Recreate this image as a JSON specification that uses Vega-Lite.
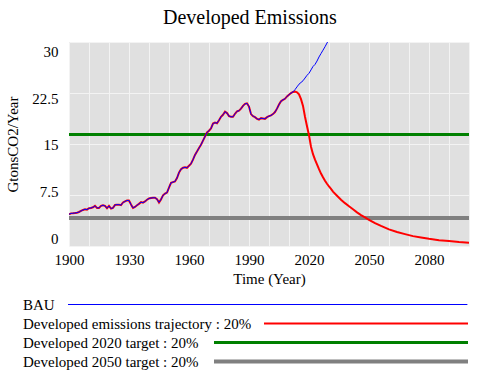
{
  "$schema": "https://vega.github.io/schema/vega-lite/v6.json",
  "padding": {"top": 8, "left": 5, "right": 5, "bottom": 5},
  "background": "white",
  "title": {"text": "Developed Emissions", "font": "Liberation Serif", "fontSize": 20, "fontWeight": "normal", "color": "black", "anchor": "middle", "offset": 14, "dx": 12},
  "config": {"font": "Liberation Serif", "view": {"stroke": null}},
  "spacing": 9,
  "datasets": {
    "emissions": [
      {"year": 1900, "bau": 4.66, "traj": 4.66, "t2020": 16.4, "t2050": 4.1},
      {"year": 1901, "bau": 4.8, "traj": 4.8},
      {"year": 1902, "bau": 4.82, "traj": 4.82},
      {"year": 1903, "bau": 4.85, "traj": 4.85},
      {"year": 1904, "bau": 4.9, "traj": 4.9},
      {"year": 1905, "bau": 5.0, "traj": 5.0},
      {"year": 1906, "bau": 5.15, "traj": 5.15},
      {"year": 1907, "bau": 5.3, "traj": 5.3},
      {"year": 1908, "bau": 5.4, "traj": 5.4},
      {"year": 1909, "bau": 5.35, "traj": 5.35},
      {"year": 1910, "bau": 5.55, "traj": 5.55},
      {"year": 1911, "bau": 5.6, "traj": 5.6},
      {"year": 1912, "bau": 5.7, "traj": 5.7},
      {"year": 1913, "bau": 5.9, "traj": 5.9},
      {"year": 1914, "bau": 5.6, "traj": 5.6},
      {"year": 1915, "bau": 5.6, "traj": 5.6},
      {"year": 1916, "bau": 5.9, "traj": 5.9},
      {"year": 1917, "bau": 6.0, "traj": 6.0},
      {"year": 1918, "bau": 5.9, "traj": 5.9},
      {"year": 1919, "bau": 5.55, "traj": 5.55},
      {"year": 1920, "bau": 5.9, "traj": 5.9},
      {"year": 1921, "bau": 5.5, "traj": 5.5},
      {"year": 1922, "bau": 5.6, "traj": 5.6},
      {"year": 1923, "bau": 6.05, "traj": 6.05},
      {"year": 1924, "bau": 6.08, "traj": 6.08},
      {"year": 1925, "bau": 6.08, "traj": 6.08},
      {"year": 1926, "bau": 6.0, "traj": 6.0},
      {"year": 1927, "bau": 6.4, "traj": 6.4},
      {"year": 1928, "bau": 6.55, "traj": 6.55},
      {"year": 1929, "bau": 6.7, "traj": 6.7},
      {"year": 1930, "bau": 6.7, "traj": 6.7},
      {"year": 1931, "bau": 6.1, "traj": 6.1},
      {"year": 1932, "bau": 5.6, "traj": 5.6},
      {"year": 1933, "bau": 5.75, "traj": 5.75},
      {"year": 1934, "bau": 6.0, "traj": 6.0},
      {"year": 1935, "bau": 6.2, "traj": 6.2},
      {"year": 1936, "bau": 6.45, "traj": 6.45},
      {"year": 1937, "bau": 6.37, "traj": 6.37},
      {"year": 1938, "bau": 6.55, "traj": 6.55},
      {"year": 1939, "bau": 6.8, "traj": 6.8},
      {"year": 1940, "bau": 7.0, "traj": 7.0},
      {"year": 1941, "bau": 7.05, "traj": 7.05},
      {"year": 1942, "bau": 7.1, "traj": 7.1},
      {"year": 1943, "bau": 7.1, "traj": 7.1},
      {"year": 1944, "bau": 6.9, "traj": 6.9},
      {"year": 1945, "bau": 6.4, "traj": 6.4},
      {"year": 1946, "bau": 6.85, "traj": 6.85},
      {"year": 1947, "bau": 7.45, "traj": 7.45},
      {"year": 1948, "bau": 7.7, "traj": 7.7},
      {"year": 1949, "bau": 7.85, "traj": 7.85},
      {"year": 1950, "bau": 8.6, "traj": 8.6},
      {"year": 1951, "bau": 9.3, "traj": 9.3},
      {"year": 1952, "bau": 9.4, "traj": 9.4},
      {"year": 1953, "bau": 9.5, "traj": 9.5},
      {"year": 1954, "bau": 10.0, "traj": 10.0},
      {"year": 1955, "bau": 10.8, "traj": 10.8},
      {"year": 1956, "bau": 11.3, "traj": 11.3},
      {"year": 1957, "bau": 11.5, "traj": 11.5},
      {"year": 1958, "bau": 11.57, "traj": 11.57},
      {"year": 1959, "bau": 11.5, "traj": 11.5},
      {"year": 1960, "bau": 11.8, "traj": 11.8},
      {"year": 1961, "bau": 12.1, "traj": 12.1},
      {"year": 1962, "bau": 12.7, "traj": 12.7},
      {"year": 1963, "bau": 13.4, "traj": 13.4},
      {"year": 1964, "bau": 13.9, "traj": 13.9},
      {"year": 1965, "bau": 14.4, "traj": 14.4},
      {"year": 1966, "bau": 14.9, "traj": 14.9},
      {"year": 1967, "bau": 15.5, "traj": 15.5},
      {"year": 1968, "bau": 16.1, "traj": 16.1},
      {"year": 1969, "bau": 16.7, "traj": 16.7},
      {"year": 1970, "bau": 16.95, "traj": 16.95},
      {"year": 1971, "bau": 17.3, "traj": 17.3},
      {"year": 1972, "bau": 18.0, "traj": 18.0},
      {"year": 1973, "bau": 18.14, "traj": 18.14},
      {"year": 1974, "bau": 18.05, "traj": 18.05},
      {"year": 1975, "bau": 18.5, "traj": 18.5},
      {"year": 1976, "bau": 19.0, "traj": 19.0},
      {"year": 1977, "bau": 19.3, "traj": 19.3},
      {"year": 1978, "bau": 19.75, "traj": 19.75},
      {"year": 1979, "bau": 19.55, "traj": 19.55},
      {"year": 1980, "bau": 19.1, "traj": 19.1},
      {"year": 1981, "bau": 19.0, "traj": 19.0},
      {"year": 1982, "bau": 19.0, "traj": 19.0},
      {"year": 1983, "bau": 19.45, "traj": 19.45},
      {"year": 1984, "bau": 19.8, "traj": 19.8},
      {"year": 1985, "bau": 19.9, "traj": 19.9},
      {"year": 1986, "bau": 20.2, "traj": 20.2},
      {"year": 1987, "bau": 20.6, "traj": 20.6},
      {"year": 1988, "bau": 20.9, "traj": 20.9},
      {"year": 1989, "bau": 20.98, "traj": 20.98},
      {"year": 1990, "bau": 20.5, "traj": 20.5},
      {"year": 1991, "bau": 19.4, "traj": 19.4},
      {"year": 1992, "bau": 19.1, "traj": 19.1},
      {"year": 1993, "bau": 18.95, "traj": 18.95},
      {"year": 1994, "bau": 18.7, "traj": 18.7},
      {"year": 1995, "bau": 18.6, "traj": 18.6},
      {"year": 1996, "bau": 18.8, "traj": 18.8},
      {"year": 1997, "bau": 18.75, "traj": 18.75},
      {"year": 1998, "bau": 18.7, "traj": 18.7},
      {"year": 1999, "bau": 18.95, "traj": 18.95},
      {"year": 2000, "bau": 19.1, "traj": 19.1},
      {"year": 2001, "bau": 19.2, "traj": 19.2},
      {"year": 2002, "bau": 19.4, "traj": 19.4},
      {"year": 2003, "bau": 19.7, "traj": 19.7},
      {"year": 2004, "bau": 20.2, "traj": 20.2},
      {"year": 2005, "bau": 20.8, "traj": 20.8},
      {"year": 2006, "bau": 21.3, "traj": 21.3},
      {"year": 2007, "bau": 21.5, "traj": 21.5},
      {"year": 2008, "bau": 21.65, "traj": 21.65},
      {"year": 2009, "bau": 22.0, "traj": 22.0},
      {"year": 2010, "bau": 22.25, "traj": 22.25},
      {"year": 2011, "bau": 22.5, "traj": 22.5},
      {"year": 2012, "bau": 22.65, "traj": 22.65},
      {"year": 2013, "bau": 23.0, "traj": 22.7},
      {"year": 2014, "bau": 23.4, "traj": 22.6},
      {"year": 2015, "bau": 23.8, "traj": 22.3},
      {"year": 2016, "bau": 24.05, "traj": 21.6},
      {"year": 2017, "bau": 24.3, "traj": 20.6},
      {"year": 2018, "bau": 24.7, "traj": 19.0},
      {"year": 2019, "bau": 25.1, "traj": 17.6},
      {"year": 2020, "bau": 25.4, "traj": 16.3},
      {"year": 2021, "bau": 25.9, "traj": 14.6},
      {"year": 2022, "bau": 26.4, "traj": 13.5},
      {"year": 2023, "bau": 26.7, "traj": 12.7},
      {"year": 2024, "bau": 27.2, "traj": 12.0},
      {"year": 2025, "bau": 27.8, "traj": 11.3},
      {"year": 2026, "bau": 28.3, "traj": 10.65},
      {"year": 2027, "bau": 28.8, "traj": 10.1},
      {"year": 2028, "bau": 29.3, "traj": 9.6},
      {"year": 2029, "bau": 29.85, "traj": 9.15},
      {"year": 2030, "bau": 30.4, "traj": 8.75},
      {"year": 2031, "bau": 31.0, "traj": 8.4},
      {"year": 2032, "traj": 8.0},
      {"year": 2034, "traj": 7.4},
      {"year": 2036, "traj": 6.8},
      {"year": 2038, "traj": 6.3},
      {"year": 2040, "traj": 5.85},
      {"year": 2042, "traj": 5.4},
      {"year": 2044, "traj": 4.95},
      {"year": 2046, "traj": 4.55},
      {"year": 2048, "traj": 4.2},
      {"year": 2050, "traj": 3.85},
      {"year": 2053, "traj": 3.35},
      {"year": 2056, "traj": 2.95},
      {"year": 2060, "traj": 2.45},
      {"year": 2064, "traj": 2.05},
      {"year": 2068, "traj": 1.75},
      {"year": 2072, "traj": 1.45},
      {"year": 2076, "traj": 1.25},
      {"year": 2080, "traj": 1.05},
      {"year": 2085, "traj": 0.85},
      {"year": 2090, "traj": 0.72},
      {"year": 2095, "traj": 0.58},
      {"year": 2100, "traj": 0.49, "t2020": 16.4, "t2050": 4.1}
    ],
    "legend": [
      {"series": "bau", "label": "BAU"},
      {"series": "traj", "label": "Developed emissions trajectory : 20%"},
      {"series": "t2020", "label": "Developed 2020 target : 20%"},
      {"series": "t2050", "label": "Developed 2050 target : 20%"}
    ]
  },
  "vconcat": [
    {
      "width": 400,
      "height": 204,
      "view": {"fill": "#e0e0e0", "stroke": null},
      "data": {"name": "emissions"},
      "transform": [
        {"fold": ["bau", "traj", "t2020", "t2050"], "as": ["series", "value"]},
        {"filter": "isValid(datum.value)"}
      ],
      "encoding": {
        "x": {
          "field": "year", "type": "quantitative",
          "scale": {"domain": [1900, 2100], "nice": false, "zero": false},
          "axis": {
            "title": "Time (Year)",
            "values": [1900, 1910, 1920, 1930, 1940, 1950, 1960, 1970, 1980, 1990, 2000, 2010, 2020, 2030, 2040, 2050, 2060, 2070, 2080, 2090, 2100],
            "format": "d",
            "labelExpr": "(datum.value - 1900) % 30 == 0 ? datum.label : ''",
            "labelOverlap": false, "labelFlush": false,
            "grid": true, "gridColor": "#f3f3f3", "gridWidth": 1,
            "domain": false, "ticks": false, "tickSize": 0,
            "labelPadding": 6, "titlePadding": 4,
            "labelFont": "Liberation Serif", "labelFontSize": 15, "labelColor": "black",
            "titleFont": "Liberation Serif", "titleFontSize": 15, "titleFontWeight": "normal", "titleColor": "black"
          }
        },
        "y": {
          "field": "value", "type": "quantitative",
          "scale": {"domain": [0, 30], "nice": false},
          "axis": {
            "title": "GtonsCO2/Year",
            "values": [0, 7.5, 15, 22.5, 30],
            "format": ".3~g",
            "labelOffset": {"condition": [
              {"test": "datum.value == 30", "value": 9.5},
              {"test": "datum.value == 22.5", "value": 5},
              {"test": "datum.value == 7.5", "value": -4},
              {"test": "datum.value == 0", "value": -7.7}
            ], "value": 0.5},
            "grid": true, "gridColor": "#f3f3f3", "gridWidth": 1,
            "domain": false, "ticks": false, "tickSize": 0,
            "labelPadding": 11, "titlePadding": 11,
            "labelFont": "Liberation Serif", "labelFontSize": 15, "labelColor": "black",
            "titleFont": "Liberation Serif", "titleFontSize": 15, "titleFontWeight": "normal", "titleColor": "black"
          }
        },
        "color": {
          "field": "series", "type": "nominal",
          "scale": {"domain": ["bau", "traj", "t2020", "t2050"], "range": ["#0000ff", "#ff0000", "#008000", "#808080"]},
          "legend": null
        }
      },
      "layer": [
        {"transform": [{"filter": "datum.series == 't2050'"}], "mark": {"type": "line", "strokeWidth": 4, "clip": true}},
        {"transform": [{"filter": "datum.series == 't2020'"}], "mark": {"type": "line", "strokeWidth": 3, "clip": true}},
        {"transform": [{"filter": "datum.series == 'traj'"}], "mark": {"type": "line", "strokeWidth": 2, "clip": true}},
        {"transform": [{"filter": "datum.series == 'bau'"}], "mark": {"type": "line", "strokeWidth": 1, "clip": true}}
      ]
    },
    {
      "width": 400,
      "height": 76,
      "data": {"name": "legend"},
      "encoding": {
        "y": {"field": "series", "type": "nominal", "scale": {"domain": ["bau", "traj", "t2020", "t2050"]}, "axis": null}
      },
      "layer": [
        {
          "mark": {"type": "text", "align": "left", "baseline": "middle", "font": "Liberation Serif", "fontSize": 15, "color": "black"},
          "encoding": {
            "x": {"datum": -11.5, "type": "quantitative", "scale": {"domain": [0, 100], "nice": false, "zero": false}, "axis": null},
            "text": {"field": "label"}
          }
        },
        {
          "transform": [{"filter": "datum.series == 'bau'"}],
          "mark": {"type": "rule", "strokeWidth": 1},
          "encoding": {
            "x": {"datum": -0.25, "type": "quantitative", "scale": {"domain": [0, 100], "nice": false, "zero": false}, "axis": null},
            "x2": {"datum": 99.6},
            "color": {"field": "series", "type": "nominal", "legend": null}
          }
        },
        {
          "transform": [{"filter": "datum.series == 'traj'"}],
          "mark": {"type": "rule", "strokeWidth": 2},
          "encoding": {
            "x": {"datum": 48.75, "type": "quantitative", "scale": {"domain": [0, 100], "nice": false, "zero": false}, "axis": null},
            "x2": {"datum": 99.75},
            "color": {"field": "series", "type": "nominal", "legend": null}
          }
        },
        {
          "transform": [{"filter": "datum.series == 't2020'"}],
          "mark": {"type": "rule", "strokeWidth": 3},
          "encoding": {
            "x": {"datum": 36.25, "type": "quantitative", "scale": {"domain": [0, 100], "nice": false, "zero": false}, "axis": null},
            "x2": {"datum": 99.75},
            "color": {"field": "series", "type": "nominal", "legend": null}
          }
        },
        {
          "transform": [{"filter": "datum.series == 't2050'"}],
          "mark": {"type": "rule", "strokeWidth": 4},
          "encoding": {
            "x": {"datum": 36.25, "type": "quantitative", "scale": {"domain": [0, 100], "nice": false, "zero": false}, "axis": null},
            "x2": {"datum": 99.75},
            "color": {"field": "series", "type": "nominal", "legend": null}
          }
        }
      ]
    }
  ]
}
